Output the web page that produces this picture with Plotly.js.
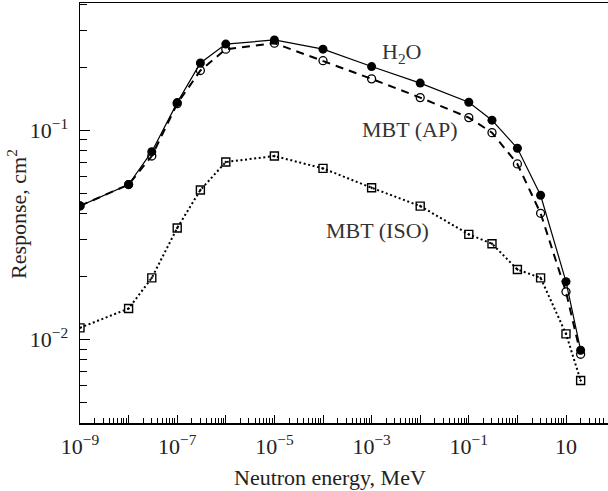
<!DOCTYPE html>
<html>
<head>
<meta charset="utf-8">
<script src="https://cdn.plot.ly/plotly-3.0.1.min.js"></script>
<style>html,body{margin:0;padding:0;background:#fff;}#chart{width:608px;height:491px;}</style>
</head>
<body>
<div id="chart"></div>
<script>
// Neutron energy (MeV)
const energy = [1e-9, 1e-8, 3e-8, 1e-7, 3e-7, 1e-6, 1e-5, 1e-4, 1e-3, 1e-2, 1e-1, 0.3, 1, 3, 10, 20];
// Responses (cm^2)
const h2o    = [0.0435, 0.055, 0.079, 0.1355, 0.2095, 0.258, 0.270, 0.244, 0.2015, 0.168, 0.136, 0.1117, 0.082, 0.0489, 0.0189, 0.00889];
const mbtAP  = [0.0435, 0.055, 0.0753, 0.134, 0.193, 0.244, 0.2606, 0.215, 0.176, 0.1432, 0.1149, 0.0974, 0.069, 0.0401, 0.0169, 0.0085];
const mbtISO = [0.01137, 0.01406, 0.0197, 0.0341, 0.0518, 0.0705, 0.0753, 0.0657, 0.0531, 0.0434, 0.0318, 0.0287, 0.0216, 0.0197, 0.01064, 0.00637];
// Tick labels
const xTickVals = [1e-9, 1e-8, 1e-7, 1e-6, 1e-5, 1e-4, 1e-3, 1e-2, 1e-1, 1, 10];
const xTickText = ['10<sup>−9</sup>', '', '10<sup>−7</sup>', '', '10<sup>−5</sup>', '', '10<sup>−3</sup>', '', '10<sup>−1</sup>', '', '10'];
const yTickVals = [0.01, 0.1];
const yTickText = ['10<sup>−2</sup>', '10<sup>−1</sup>'];
const seriesLabels = ['H<sub>2</sub>O', 'MBT (AP)', 'MBT (ISO)'];

function minorVals(lo, hi) {
  const out = [];
  for (let e = lo; e <= hi; e++) {
    for (let m = 2; m <= 9; m++) out.push(m * Math.pow(10, e));
  }
  return out;
}
const xMinor = minorVals(-9, 1);
const yMinor = minorVals(-3, -1).filter(v => v > 0.0041 && v < 0.41);

const FONT = 'Liberation Serif, Times New Roman, serif';
const W = 608, H = 491, L = 80, R = 0, T = 3, B = 68;
const pw = W - L - R, ph = H - T - B;
function px(X) { return (X - L) / pw; }
function py(Y) { return (H - B - Y) / ph; }

const traces = [
  {
    x: energy, y: mbtISO, type: 'scatter', mode: 'lines+markers', name: 'MBT (ISO)',
    line: {color: '#000', width: 2, dash: '2px,2.6px'},
    marker: {symbol: 'square-open-dot', size: 8, color: '#000', line: {width: 1.4, color: '#000'}}
  },
  {
    x: energy, y: mbtAP, type: 'scatter', mode: 'lines+markers', name: 'MBT (AP)',
    line: {color: '#000', width: 2, dash: '8px,6px'},
    marker: {symbol: 'circle-open', size: 8, color: '#000', line: {width: 1.3, color: '#000'}}
  },
  {
    x: energy, y: h2o, type: 'scatter', mode: 'lines+markers', name: 'H2O',
    line: {color: '#000', width: 1.2},
    marker: {symbol: 'circle', size: 9, color: '#000'}
  }
];

const layout = {
  width: W, height: H,
  margin: {l: L, r: R, t: T, b: B, pad: 0},
  paper_bgcolor: '#fff', plot_bgcolor: '#fff',
  showlegend: false,
  font: {family: FONT, size: 22, color: '#222'},
  xaxis: {
    type: 'log', range: [-9, -9 + pw / 48.6],
    showgrid: false, zeroline: false,
    showline: true, linecolor: '#000', linewidth: 1.5, mirror: true,
    tickmode: 'array', tickvals: xTickVals, ticktext: xTickText,
    ticks: 'inside', ticklen: 8, tickwidth: 1, tickcolor: '#000',
    ticklabelstandoff: 3,
    tickfont: {family: FONT, size: 22, color: '#222'},
    minor: {tickmode: 'array', tickvals: xMinor, ticks: 'inside', ticklen: 5, tickwidth: 1, tickcolor: '#000', showgrid: false}
  },
  yaxis: {
    type: 'log', range: [-2.399, -0.392],
    showgrid: false, zeroline: false,
    showline: true, linecolor: '#000', linewidth: 1.5,
    tickmode: 'array', tickvals: yTickVals, ticktext: yTickText,
    ticks: 'inside', ticklen: 10, tickwidth: 1, tickcolor: '#000',
    ticklabelstandoff: 6,
    tickfont: {family: FONT, size: 22, color: '#222'},
    minor: {tickmode: 'array', tickvals: yMinor, ticks: 'inside', ticklen: 7, tickwidth: 1, tickcolor: '#000', showgrid: false}
  },
  annotations: [
    {text: seriesLabels[0], xref: 'paper', yref: 'paper', x: px(401), y: py(53), showarrow: false, xanchor: 'center', yanchor: 'middle', font: {family: FONT, size: 22, color: '#333'}},
    {text: seriesLabels[1], xref: 'paper', yref: 'paper', x: px(410), y: py(129), showarrow: false, xanchor: 'center', yanchor: 'middle', font: {family: FONT, size: 22, color: '#333'}},
    {text: seriesLabels[2], xref: 'paper', yref: 'paper', x: px(377), y: py(230), showarrow: false, xanchor: 'center', yanchor: 'middle', font: {family: FONT, size: 22, color: '#333'}},
    {text: 'Neutron energy, MeV', xref: 'paper', yref: 'paper', x: px(330), y: py(477), showarrow: false, xanchor: 'center', yanchor: 'middle', font: {family: FONT, size: 22, color: '#222'}},
    {text: 'Response, cm<sup>2</sup>', xref: 'paper', yref: 'paper', x: px(17), y: py(214), showarrow: false, textangle: -90, xanchor: 'center', yanchor: 'middle', font: {family: FONT, size: 22, color: '#222'}}
  ]
};

Plotly.newPlot('chart', traces, layout, {displayModeBar: false, staticPlot: true});
</script>
</body>
</html>
